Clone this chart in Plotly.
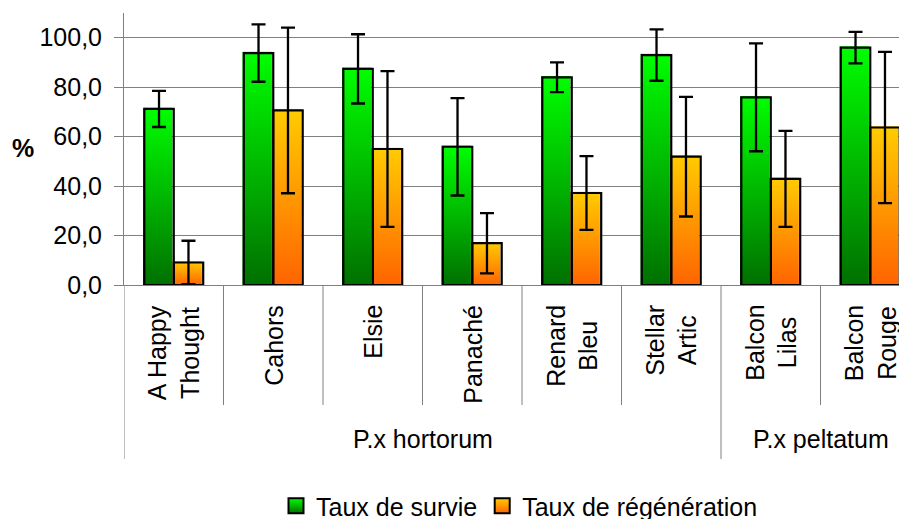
import plotly.graph_objects as go

# ---- data ----
categories = ["A Happy<br>Thought", "Cahors", "Elsie", "Panaché",
              "Renard<br>Bleu", "Stellar<br>Artic", "Balcon<br>Lilas", "Balcon<br>Rouge"]
groups = ["P.x hortorum", "P.x peltatum"]
group_sizes = [6, 2]
survie = [71.2, 93.8, 87.4, 55.9, 84.0, 93.0, 75.9, 96.0]
survie_err = [7.3, 11.6, 14.0, 19.7, 6.0, 10.4, 21.8, 6.4]
regen = [9.1, 70.6, 55.0, 16.9, 37.2, 51.9, 42.9, 63.7]
regen_err = [8.8, 33.5, 31.5, 12.2, 14.9, 24.2, 19.4, 30.6]
y_ticks = [0, 20, 40, 60, 80, 100]
series_names = ["Taux de survie", "Taux de régénération"]

# ---- layout geometry (page has an 8px body margin) ----
OFF = 8
W, H = 907 - OFF, 519 - OFF
ML, MR, MT = 124 - OFF, 0, 13 - OFF
PLOT_BOTTOM = 285 - OFF
MB = H - PLOT_BOTTOM
PW, PH = W - ML - MR, H - MT - MB
CAT_PX = 99.5
X0 = -0.5
X1 = X0 + PW / CAT_PX
Y1 = 110
BAR_W = 0.296
px_x = 1.0 / CAT_PX
px_y = Y1 / PH

FONT = "Liberation Sans, Arial, sans-serif"

styles = [
    dict(top="#00FF00", bottom="#007000", off=-1),
    dict(top="#FFCC00", bottom="#FF6400", off=0),
]

fig = go.Figure()

series = [(survie, survie_err), (regen, regen_err)]

# gradient fills
for (vals, errs), st in zip(series, styles):
    for i, v in enumerate(vals):
        left = i + st["off"] * BAR_W
        right = left + BAR_W
        dx, dy = -1.3 * px_x, 1.3 * px_y
        fig.add_trace(go.Scatter(
            x=[left + dx, left + dx, right + dx, right + dx, left + dx],
            y=[0, v + dy, v + dy, 0, 0],
            mode="lines", fill="toself", line=dict(width=0, color="rgba(0,0,0,0)"),
            fillgradient=dict(type="vertical",
                              colorscale=[[0, st["bottom"]], [1, st["top"]]]),
            showlegend=False, hoverinfo="skip"))

# outlines
for (vals, errs), st in zip(series, styles):
    for i, v in enumerate(vals):
        left = i + st["off"] * BAR_W
        right = left + BAR_W
        fig.add_trace(go.Scatter(
            x=[left, left, right, right, left],
            y=[0, v, v, 0, 0],
            mode="lines", line=dict(width=2.2, color="black"),
            showlegend=False, hoverinfo="skip"))

# error bars
for (vals, errs), st in zip(series, styles):
    xs = [i + st["off"] * BAR_W + BAR_W / 2 for i in range(len(vals))]
    fig.add_trace(go.Scatter(
        x=xs, y=vals, mode="markers",
        marker=dict(size=1, color="rgba(0,0,0,0)"),
        error_y=dict(type="data", array=errs, visible=True,
                     color="black", thickness=2.3, width=7),
        showlegend=False, hoverinfo="skip"))

# legend entries
for name, st in zip(series_names, styles):
    fig.add_trace(go.Scatter(
        x=[None], y=[None], mode="markers", name=name,
        marker=dict(symbol="square", size=15, color=st["top"],
                    gradient=dict(type="vertical", color=st["bottom"]),
                    line=dict(color="black", width=2))))


def py(p):
    """reference page pixel row -> paper y"""
    return (285 - p) / PH


def px(p):
    """reference page pixel column -> paper x"""
    return (p - 124) / PW


shapes = []
bounds = [X0]
acc = X0
for g in group_sizes:
    acc += g
    bounds.append(acc)
for i in range(len(categories) + 1):
    xb = X0 + i
    if xb > X1:
        continue
    long = xb in bounds
    shapes.append(dict(type="line", xref="x", yref="paper",
                       x0=xb, x1=xb, y0=0, y1=py(459 if long else 405),
                       line=dict(color="#808080", width=1)))

annotations = []
for i, c in enumerate(categories):
    annotations.append(dict(x=i, y=py(303), xref="x", yref="paper",
                            text=c, textangle=-90, showarrow=False,
                            xanchor="center", yanchor="top", align="center",
                            font=dict(size=25, color="black", family=FONT)))
start = X0
for g, n in zip(groups, group_sizes):
    annotations.append(dict(x=start + n / 2, y=py(439), xref="x", yref="paper",
                            text=g, showarrow=False, xanchor="center", yanchor="middle",
                            font=dict(size=25, color="black", family=FONT)))
    start += n
annotations.append(dict(x=px(23), y=py(148), xref="paper", yref="paper",
                        text="<b>%</b>", showarrow=False, xanchor="center", yanchor="middle",
                        font=dict(size=25, color="black", family=FONT)))

fig.update_layout(
    width=W, height=H,
    margin=dict(l=ML, r=MR, t=MT, b=MB, autoexpand=False),
    paper_bgcolor="white", plot_bgcolor="white",
    separators=", ",
    font=dict(family=FONT, size=25, color="black"),
    xaxis=dict(range=[X0, X1], showgrid=False, showticklabels=False, zeroline=False,
               showline=True, linecolor="#808080", linewidth=1, ticks=""),
    yaxis=dict(range=[0, Y1], tickvals=y_ticks, tickformat=".1f",
               showgrid=True, gridcolor="#808080", gridwidth=1, zeroline=False,
               showline=True, linecolor="#808080", linewidth=1,
               ticks="outside", ticklen=9, tickcolor="#808080",
               ticklabelstandoff=7,
               tickfont=dict(size=25, color="black", family=FONT)),
    legend=dict(orientation="h", x=px(276), xanchor="left",
                y=py(506), yanchor="middle", font=dict(size=25, family=FONT),
                itemsizing="trace", bgcolor="rgba(0,0,0,0)"),
    shapes=shapes, annotations=annotations,
    showlegend=True,
)

fig.write_html("out.html")
